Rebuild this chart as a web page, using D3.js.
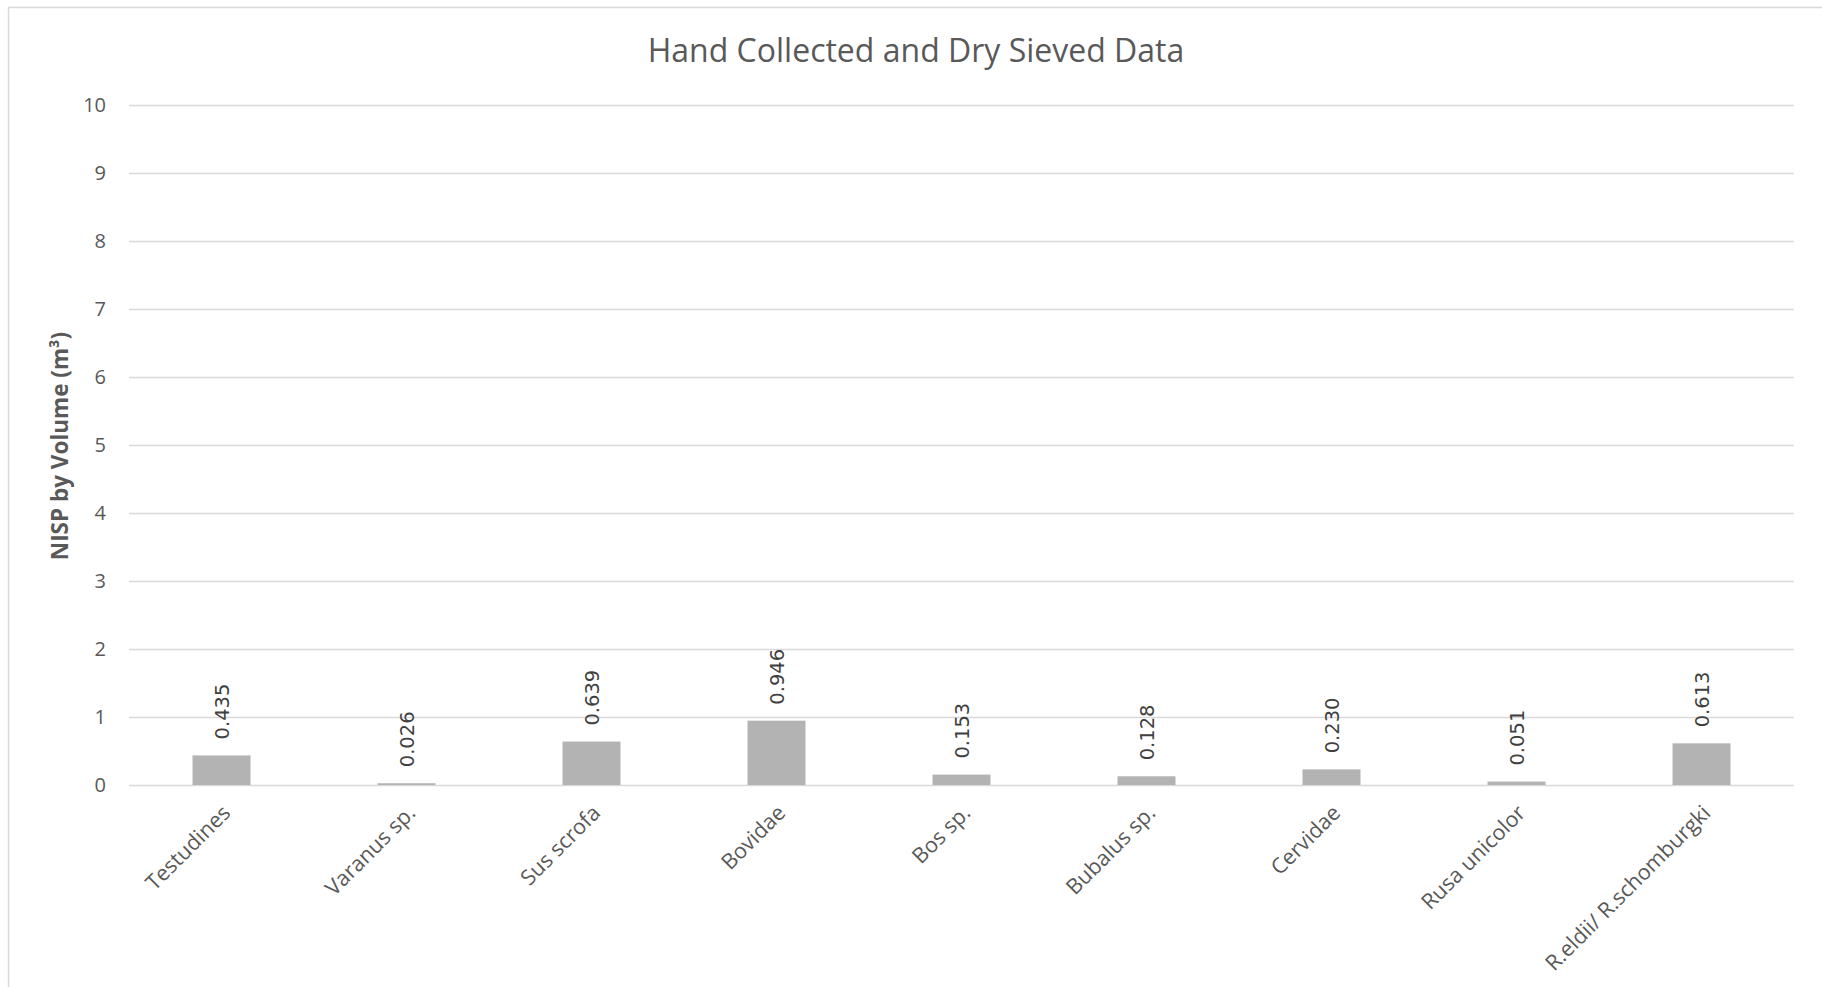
<!DOCTYPE html>
<html>
<head>
<meta charset="utf-8">
<script src="https://cdn.jsdelivr.net/npm/d3@7"></script>
<style>
  html, body { margin: 0; padding: 0; background: #fff; overflow: hidden; }
  svg { display: block; }
</style>
</head>
<body>
<script>
// Taxa and NISP per cubic metre (hand collected + dry sieved)
const categories = ["Testudines", "Varanus sp.", "Sus scrofa", "Bovidae", "Bos sp.",
                    "Bubalus sp.", "Cervidae", "Rusa unicolor", "R.eldii/ R.schomburgki"];
const values = [0.435, 0.026, 0.639, 0.946, 0.153, 0.128, 0.230, 0.051, 0.613];
const yTicks = [0, 1, 2, 3, 4, 5, 6, 7, 8, 9, 10];
const chartTitle = "Hand Collected and Dry Sieved Data";
const yAxisTitle = "NISP by Volume (m³)";

const W = 1822, H = 987;
const margin = { left: 129, right: 28, top: 105, bottom: 202 };

const svg = d3.select("body").append("svg")
  .attr("width", W).attr("height", H);

// chart area frame
svg.append("rect")
  .attr("x", 8.5).attr("y", 7.5)
  .attr("width", 3000).attr("height", 3000)
  .attr("fill", "#fff").attr("stroke", "#d9d9d9").attr("stroke-width", 1.5);

const x = d3.scaleBand()
  .domain(categories)
  .range([margin.left, W - margin.right])
  .paddingInner(0.6865).paddingOuter(0.34325);

const y = d3.scaleLinear()
  .domain([0, 10])
  .range([H - margin.bottom, margin.top]);

// gridlines + tick labels
const yAxis = d3.axisLeft(y)
  .tickValues(yTicks)
  .tickSize(-(W - margin.right - margin.left))
  .tickPadding(23)
  .tickFormat(d3.format("d"));

const gy = svg.append("g")
  .attr("transform", `translate(${margin.left},0)`)
  .call(yAxis);
gy.select(".domain").remove();
gy.selectAll(".tick line").attr("stroke", "#d9d9d9").attr("stroke-width", 1.5);
gy.selectAll(".tick text")
  .attr("fill", "#595959")
  .style("font-family", "'Open Sans', sans-serif")
  .style("font-size", "20px");

// bars
svg.append("g").selectAll("rect")
  .data(values)
  .join("rect")
  .attr("x", (d, i) => x(categories[i]))
  .attr("y", d => y(d))
  .attr("width", x.bandwidth())
  .attr("height", d => y(0) - y(d))
  .attr("fill", "#b3b3b3");

// value labels, rotated above each bar
svg.append("g").selectAll("text")
  .data(values)
  .join("text")
  .attr("transform", (d, i) =>
    `translate(${x(categories[i]) + x.bandwidth() / 2 + 1},${y(d) - 16}) rotate(-90)`)
  .attr("dy", "0.35em")
  .attr("text-anchor", "start")
  .attr("fill", "#404040")
  .style("font-family", "'DejaVu Sans', sans-serif")
  .style("font-size", "19.5px")
  .text(d => d3.format(".3f")(d));

// category labels at -45°
svg.append("g").selectAll("text")
  .data(categories)
  .join("text")
  .attr("transform", d =>
    `translate(${x(d) + x.bandwidth() / 2 + 5},${y(0) + 24}) rotate(-45)`)
  .attr("dy", "0.35em")
  .attr("text-anchor", "end")
  .attr("fill", "#595959")
  .style("font-family", "'Open Sans', sans-serif")
  .style("font-size", "21.5px")
  .text(d => d);

// chart title
svg.append("text")
  .attr("x", 916).attr("y", 62)
  .attr("text-anchor", "middle")
  .attr("fill", "#595959")
  .style("font-family", "'Open Sans', sans-serif")
  .style("font-size", "32px")
  .text(chartTitle);

// y-axis title
svg.append("text")
  .attr("transform", `translate(60,446) rotate(-90)`)
  .attr("dy", "0.35em")
  .attr("text-anchor", "middle")
  .attr("fill", "#595959")
  .style("font-family", "'Open Sans', sans-serif")
  .style("font-weight", "bold")
  .style("font-size", "22.5px")
  .text(yAxisTitle);
</script>
</body>
</html>
